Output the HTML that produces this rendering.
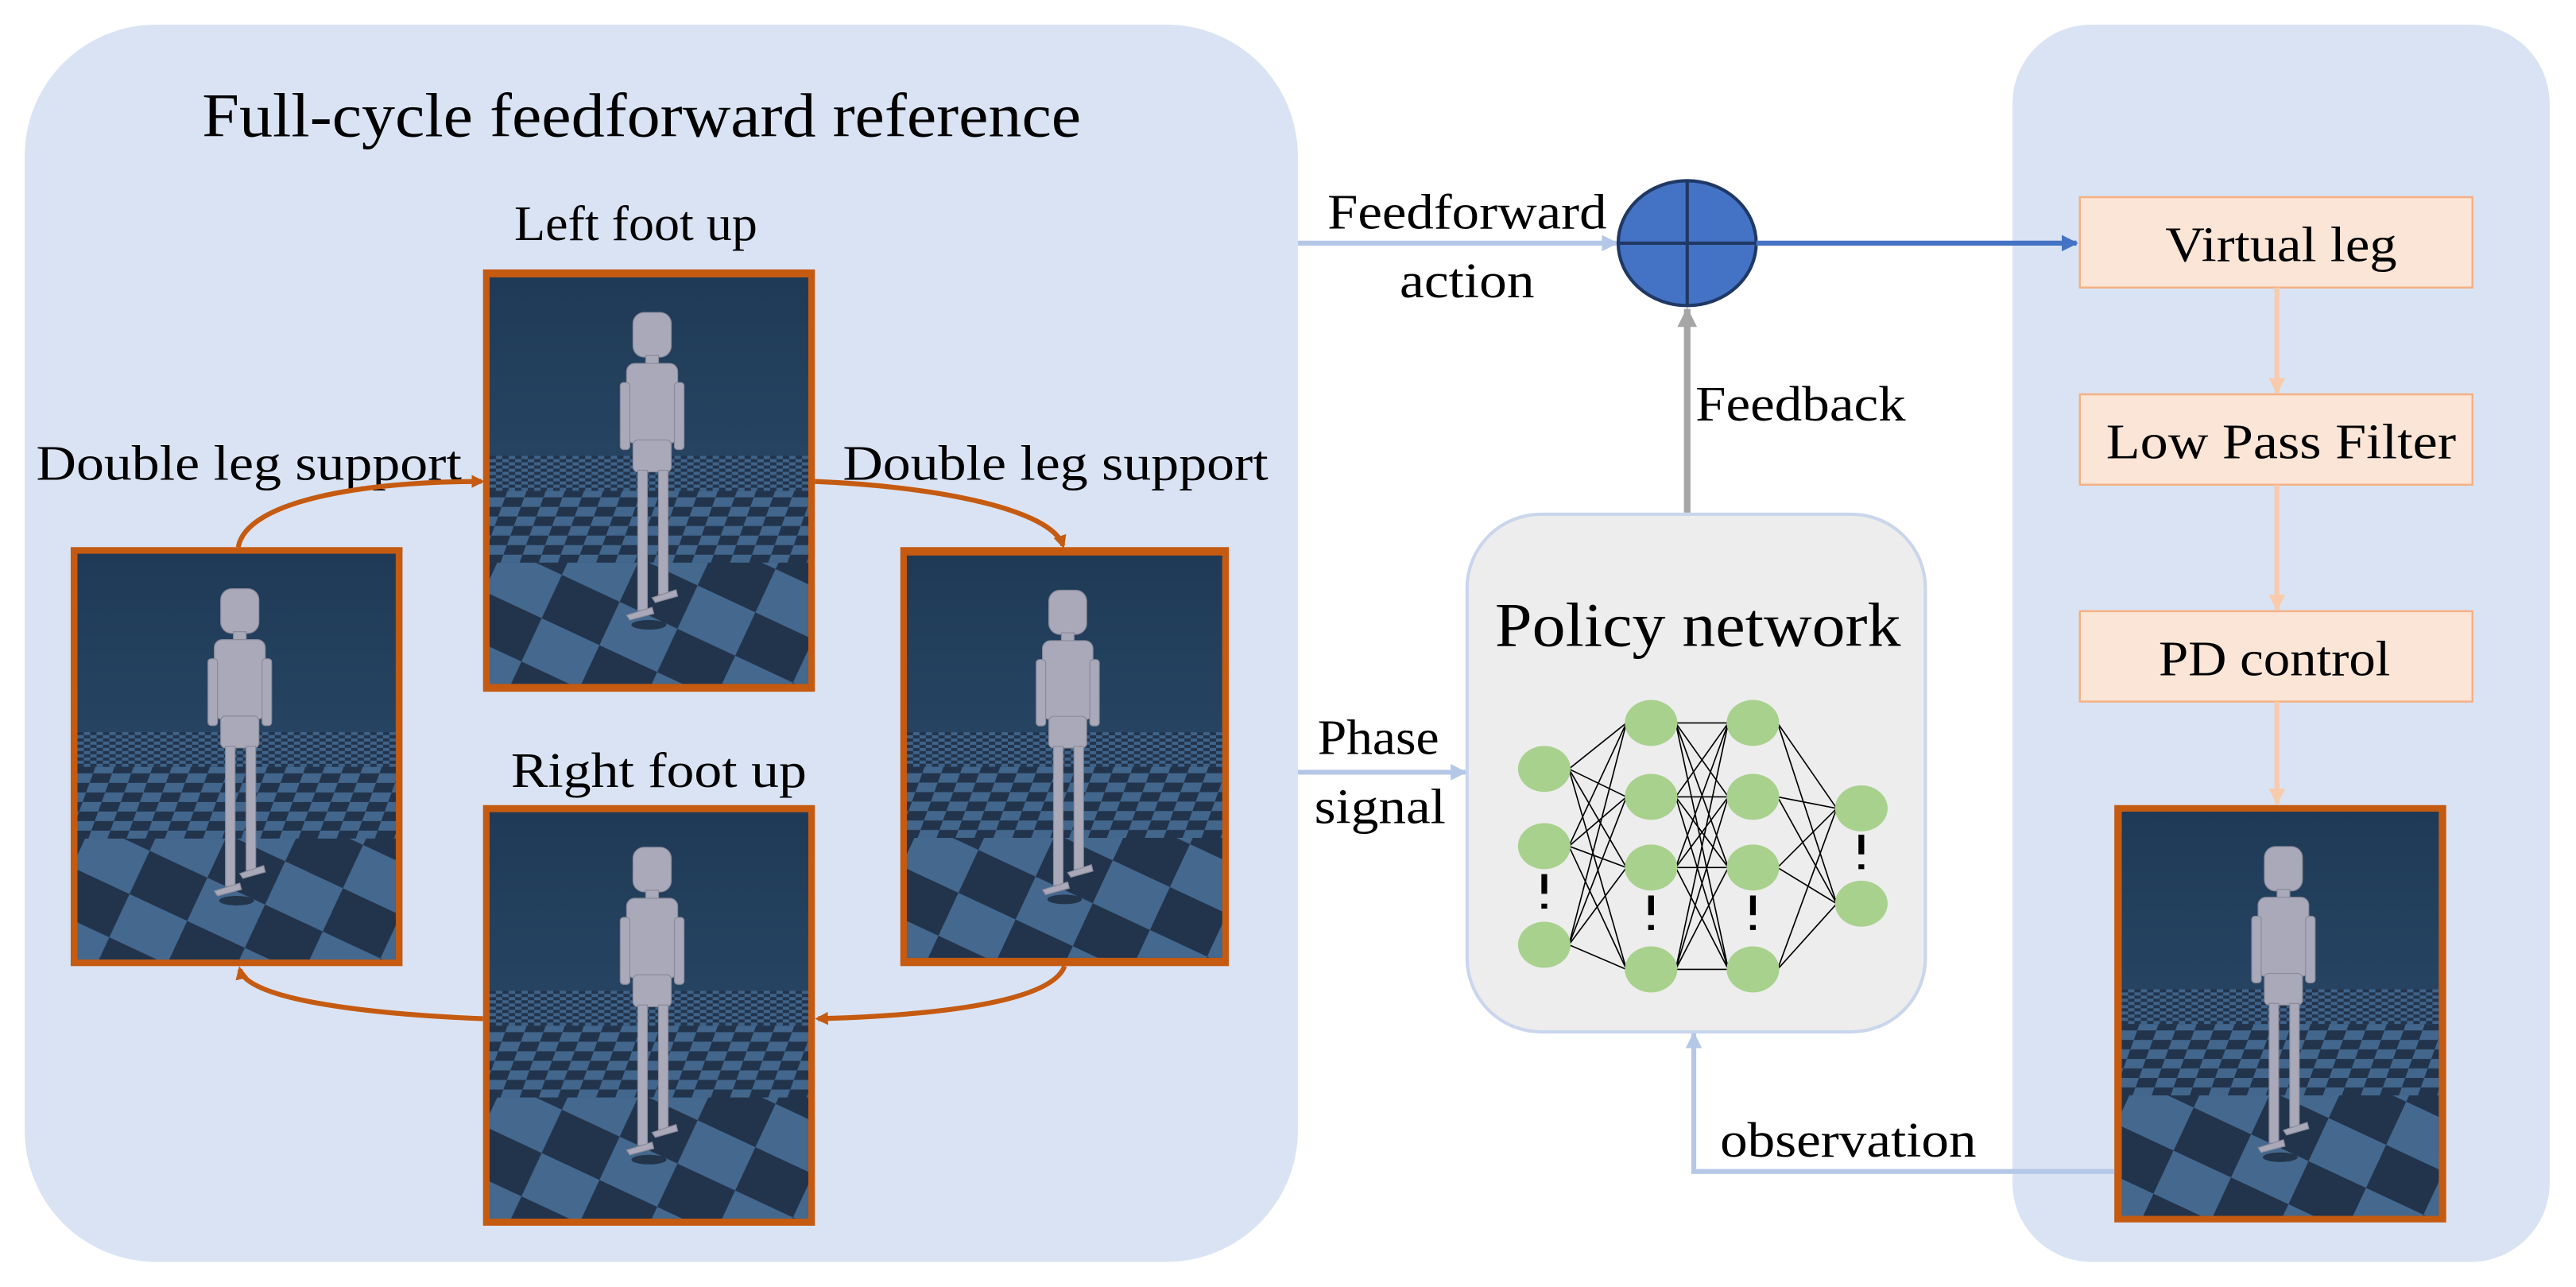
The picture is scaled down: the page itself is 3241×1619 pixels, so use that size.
<!DOCTYPE html>
<html><head><meta charset="utf-8"><style>html,body{margin:0;padding:0;background:#fff}svg{display:block}</style></head>
<body>
<svg width="3241" height="1619" viewBox="0 0 1568 783.3" xmlns="http://www.w3.org/2000/svg" font-family="'Liberation Serif', serif">
<defs>
<linearGradient id="sky" x1="0" y1="0" x2="0" y2="1"><stop offset="0" stop-color="#1f3a56"/><stop offset="1" stop-color="#2e5172"/></linearGradient>
<pattern id="c1" width="8" height="4" patternUnits="userSpaceOnUse"><rect width="8" height="4" fill="#3f6389"/><rect width="4" height="2" fill="#22344c"/><rect x="4" y="2" width="4" height="2" fill="#22344c"/></pattern>
<pattern id="c2" width="24" height="12" patternUnits="userSpaceOnUse" patternTransform="skewX(-20)"><rect width="24" height="12" fill="#42668c"/><rect width="12" height="6" fill="#22344c"/><rect x="12" y="6" width="12" height="6" fill="#22344c"/></pattern>
<pattern id="c3" width="80" height="60" patternUnits="userSpaceOnUse" patternTransform="rotate(25)"><rect width="80" height="60" fill="#44688e"/><rect width="40" height="30" fill="#22344c"/><rect x="40" y="30" width="40" height="30" fill="#22344c"/></pattern>
<symbol id="scene" viewBox="0 0 200 255">
<rect width="200" height="255" fill="url(#sky)"/>
<rect y="112" width="200" height="22" fill="url(#c1)"/>
<rect y="134" width="200" height="45" fill="url(#c2)"/>
<rect y="179" width="200" height="76" fill="url(#c3)"/>
<g fill="#a9a9b9" stroke="#8a8a9a" stroke-width="0.6">
<rect x="90" y="22" width="24" height="28" rx="7"/>
<rect x="98" y="49" width="8" height="6"/>
<rect x="86" y="54" width="32" height="50" rx="5"/>
<rect x="82" y="66" width="6" height="42" rx="2"/>
<rect x="116" y="66" width="6" height="42" rx="2"/>
<rect x="90" y="102" width="24" height="20" rx="3"/>
<rect x="93" y="121" width="6" height="88"/>
<rect x="106" y="121" width="6" height="78"/>
<path d="M86 212 L102 207 L103 211 L88 215Z"/>
<path d="M102 201 L117 196 L118 200 L104 204Z"/>
</g>
<ellipse cx="100" cy="218" rx="11" ry="3" fill="#15202e" opacity="0.7"/>
</symbol>
<marker id="ao" markerWidth="8" markerHeight="8" refX="6" refY="4" orient="auto" markerUnits="userSpaceOnUse"><path d="M0 0 L8 4 L0 8 Z" fill="#c55a11"/></marker>
<marker id="alb" markerWidth="10" markerHeight="10" refX="9" refY="5" orient="auto" markerUnits="userSpaceOnUse"><path d="M0 0 L10 5 L0 10 Z" fill="#b4c7e7"/></marker>
<marker id="adb" markerWidth="10" markerHeight="10" refX="9" refY="5" orient="auto" markerUnits="userSpaceOnUse"><path d="M0 0 L10 5 L0 10 Z" fill="#4472c4"/></marker>
<marker id="agr" markerWidth="12" markerHeight="12" refX="11" refY="6" orient="auto" markerUnits="userSpaceOnUse"><path d="M0 0 L12 6 L0 12 Z" fill="#a6a6a6"/></marker>
<marker id="apk" markerWidth="10" markerHeight="10" refX="9" refY="5" orient="auto" markerUnits="userSpaceOnUse"><path d="M0 0 L10 5 L0 10 Z" fill="#f8cbad"/></marker>
</defs>
<rect width="1568" height="783.3" fill="#fff"/>
<rect x="15" y="15" width="775" height="753" rx="80" fill="#dae3f3"/>
<rect x="1225" y="15" width="327" height="753" rx="48" fill="#dae3f3"/>
<g lengthAdjust="spacingAndGlyphs">
<text x="123" y="83" font-size="38" textLength="535" lengthAdjust="spacingAndGlyphs">Full-cycle feedforward reference</text>
<text x="313" y="146" font-size="30" textLength="148" lengthAdjust="spacingAndGlyphs">Left foot up</text>
<text x="22" y="292" font-size="30" textLength="259" lengthAdjust="spacingAndGlyphs">Double leg support</text>
<text x="513" y="292" font-size="30" textLength="259" lengthAdjust="spacingAndGlyphs">Double leg support</text>
<text x="311" y="479" font-size="30" textLength="180" lengthAdjust="spacingAndGlyphs">Right foot up</text>
</g>
<g stroke="#c55a11" stroke-width="4" fill="#c55a11">
<rect x="296" y="166" width="198" height="253"/>
<rect x="45" y="335" width="198" height="251"/>
<rect x="550" y="335" width="196" height="251"/>
<rect x="296" y="492" width="198" height="252"/>
<rect x="1289" y="492" width="198" height="250"/>
</g>
<use href="#scene" x="298" y="168" width="194" height="249" preserveAspectRatio="none"/>
<use href="#scene" x="47" y="337" width="194" height="247" preserveAspectRatio="none"/>
<use href="#scene" x="552" y="337" width="192" height="247" preserveAspectRatio="none"/>
<use href="#scene" x="298" y="494" width="194" height="248" preserveAspectRatio="none"/>
<use href="#scene" x="1291" y="494" width="194" height="246" preserveAspectRatio="none"/>
<g stroke="#c55a11" stroke-width="3" fill="none">
<path d="M145 333 C150 305 220 293 293 293" marker-end="url(#ao)"/>
<path d="M496 293 C570 296 640 310 647 332" marker-end="url(#ao)"/>
<path d="M648 588 C640 610 570 618 498 620" marker-end="url(#ao)"/>
<path d="M294 620 C220 617 150 608 146 590" marker-end="url(#ao)"/>
</g>
<text x="808" y="139" font-size="30" textLength="170" lengthAdjust="spacingAndGlyphs">Feedforward</text>
<text x="852" y="181" font-size="30" textLength="82" lengthAdjust="spacingAndGlyphs">action</text>
<line x1="790" y1="148" x2="984" y2="148" stroke="#b4c7e7" stroke-width="3" marker-end="url(#alb)"/>
<ellipse cx="1027" cy="148" rx="42" ry="38" fill="#4472c4" stroke="#1f3864" stroke-width="2"/>
<line x1="1027" y1="110" x2="1027" y2="186" stroke="#1f3864" stroke-width="2"/>
<line x1="985" y1="148" x2="1069" y2="148" stroke="#1f3864" stroke-width="2"/>
<line x1="1069" y1="148" x2="1264" y2="148" stroke="#4472c4" stroke-width="3" marker-end="url(#adb)"/>
<line x1="1027" y1="312" x2="1027" y2="188" stroke="#a6a6a6" stroke-width="4" marker-end="url(#agr)"/>
<text x="1032" y="256" font-size="30" textLength="128" lengthAdjust="spacingAndGlyphs">Feedback</text>
<rect x="893" y="313" width="279" height="315" rx="45" fill="#ededed" stroke="#c9d6ec" stroke-width="2"/>
<text x="910" y="393" font-size="38" textLength="247" lengthAdjust="spacingAndGlyphs">Policy network</text>
<text x="802" y="459" font-size="30" textLength="74" lengthAdjust="spacingAndGlyphs">Phase</text>
<text x="800" y="501" font-size="30" textLength="80" lengthAdjust="spacingAndGlyphs">signal</text>
<line x1="790" y1="470" x2="892" y2="470" stroke="#b4c7e7" stroke-width="3" marker-end="url(#alb)"/>
<g stroke="#000" stroke-width="0.8">
<path d="M955 468L990 440M955 468L990 485M955 468L990 528M955 468L990 590M955 515L990 440M955 515L990 485M955 515L990 528M955 515L990 590M955 575L990 440M955 575L990 485M955 575L990 528M955 575L990 590"/>
<path d="M1020 440L1052 440M1020 440L1052 485M1020 440L1052 528M1020 440L1052 590M1020 485L1052 440M1020 485L1052 485M1020 485L1052 528M1020 485L1052 590M1020 528L1052 440M1020 528L1052 485M1020 528L1052 528M1020 528L1052 590M1020 590L1052 440M1020 590L1052 485M1020 590L1052 528M1020 590L1052 590"/>
<path d="M1082 440L1118 492M1082 440L1118 550M1082 485L1118 492M1082 485L1118 550M1082 528L1118 492M1082 528L1118 550M1082 590L1118 492M1082 590L1118 550"/>
</g>
<g fill="#a9d18e">
<ellipse cx="940" cy="468" rx="16" ry="14"/><ellipse cx="940" cy="515" rx="16" ry="14"/><ellipse cx="940" cy="575" rx="16" ry="14"/>
<ellipse cx="1005" cy="440" rx="16" ry="14"/><ellipse cx="1005" cy="485" rx="16" ry="14"/><ellipse cx="1005" cy="528" rx="16" ry="14"/><ellipse cx="1005" cy="590" rx="16" ry="14"/>
<ellipse cx="1067" cy="440" rx="16" ry="14"/><ellipse cx="1067" cy="485" rx="16" ry="14"/><ellipse cx="1067" cy="528" rx="16" ry="14"/><ellipse cx="1067" cy="590" rx="16" ry="14"/>
<ellipse cx="1133" cy="492" rx="16" ry="14"/><ellipse cx="1133" cy="550" rx="16" ry="14"/>
</g>
<g stroke="#000" stroke-width="3.5" stroke-dasharray="12 6 3 30">
<line x1="940" y1="532" x2="940" y2="562"/>
<line x1="1005" y1="545" x2="1005" y2="578"/>
<line x1="1067" y1="545" x2="1067" y2="578"/>
<line x1="1133" y1="508" x2="1133" y2="538"/>
</g>
<g fill="#fbe5d6" stroke="#f4b183" stroke-width="1.2">
<rect x="1266" y="120" width="239" height="55"/>
<rect x="1266" y="240" width="239" height="55"/>
<rect x="1266" y="372" width="239" height="55"/>
</g>
<g font-family="'Liberation Serif', serif" font-size="30">
<text x="1318" y="159" textLength="141" lengthAdjust="spacingAndGlyphs">Virtual leg</text>
<text x="1282" y="279" textLength="213" lengthAdjust="spacingAndGlyphs">Low Pass Filter</text>
<text x="1314" y="411" textLength="141" lengthAdjust="spacingAndGlyphs">PD control</text>
</g>
<g stroke="#f8cbad" stroke-width="3">
<line x1="1386" y1="175" x2="1386" y2="239" marker-end="url(#apk)"/>
<line x1="1386" y1="295" x2="1386" y2="371" marker-end="url(#apk)"/>
<line x1="1386" y1="427" x2="1386" y2="489" marker-end="url(#apk)"/>
</g>
<path d="M1287 713 L1031 713 L1031 629" fill="none" stroke="#b4c7e7" stroke-width="3" marker-end="url(#alb)"/>
<text x="1047" y="704" font-size="30" textLength="156" lengthAdjust="spacingAndGlyphs">observation</text>
</svg>
</body></html>
